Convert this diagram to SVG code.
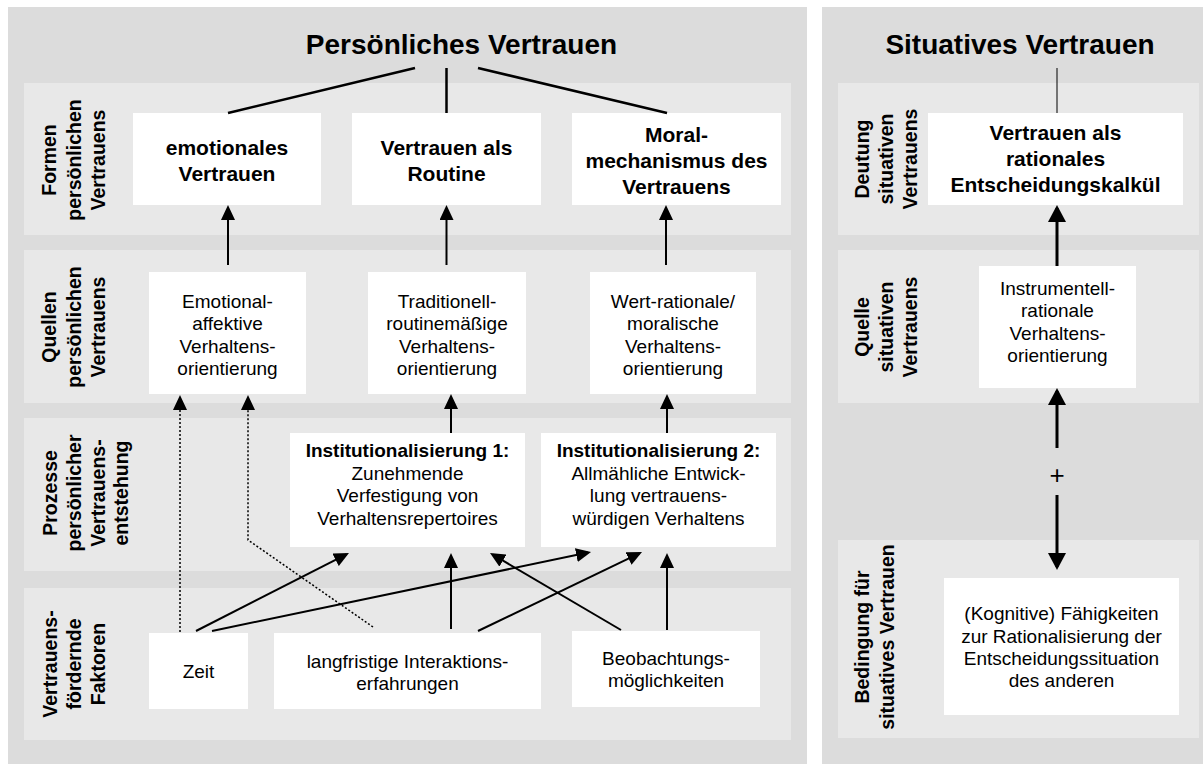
<svg xmlns="http://www.w3.org/2000/svg" width="1203" height="764" viewBox="0 0 1203 764">
  <style>
    .panel { fill: #dcdcdc; }
    .band { fill: #e8e8e8; }
    .box { fill: #ffffff; }
    text { font-family: "Liberation Sans", Arial, sans-serif; fill: #000; }
    .title { font-size: 28px; font-weight: bold; text-anchor: middle; }
    .form { font-size: 21px; font-weight: bold; text-anchor: middle; }
    .txt { font-size: 19px; text-anchor: middle; }
    .txtb { font-size: 19px; font-weight: bold; text-anchor: middle; }
    .lbl { font-size: 19.5px; font-weight: bold; text-anchor: middle; }
    .plus { font-size: 26px; text-anchor: middle; }
    .ln { stroke: #000; stroke-width: 2.5; fill: none; }
    .thin { stroke: #000; stroke-width: 1; fill: none; }
    .arr { stroke: #000; stroke-width: 2; fill: none; marker-end: url(#ah); }
    .dot { stroke: #000; stroke-width: 1.5; stroke-dasharray: 2 2; fill: none; marker-end: url(#ah); }
    .thickarr { stroke: #000; stroke-width: 3; fill: none; marker-end: url(#ahb); }
  </style>
  <defs>
    <marker id="ah" markerUnits="userSpaceOnUse" markerWidth="15" markerHeight="14" refX="12" refY="7" orient="auto">
      <path d="M0,0 L15,7 L0,14 z" fill="#000"/>
    </marker>
    <marker id="ahb" markerUnits="userSpaceOnUse" markerWidth="17" markerHeight="18" refX="14" refY="9" orient="auto">
      <path d="M0,0 L17,9 L0,18 z" fill="#000"/>
    </marker>
  </defs>

  <!-- background panels -->
  <rect x="0" y="0" width="1203" height="764" fill="#ffffff"/>
  <rect class="panel" x="8" y="7" width="799" height="757"/>
  <rect class="panel" x="822" y="7" width="381" height="757"/>

  <!-- row bands, left panel -->
  <rect class="band" x="24" y="83" width="767" height="152"/>
  <rect class="band" x="24" y="250" width="767" height="153"/>
  <rect class="band" x="24" y="418" width="767" height="153"/>
  <rect class="band" x="24" y="588" width="767" height="152"/>
  <!-- row bands, right panel -->
  <rect class="band" x="838" y="83" width="361" height="152"/>
  <rect class="band" x="838" y="250" width="361" height="153"/>
  <rect class="band" x="838" y="540" width="361" height="198"/>

  <!-- panel titles -->
  <text class="title" x="461.5" y="54">Persönliches Vertrauen</text>
  <text class="title" x="1020" y="54">Situatives Vertrauen</text>

  <!-- row labels -->
  <g id="label-formen">
    <text class="lbl" transform="translate(0,160) rotate(-90)"><tspan x="0" y="56">Formen</tspan><tspan x="0" y="81">persönlichen</tspan><tspan x="0" y="104.5">Vertrauens</tspan></text>
  </g>
  <g id="label-quellen">
    <text class="lbl" transform="translate(0,327) rotate(-90)"><tspan x="0" y="56">Quellen</tspan><tspan x="0" y="81">persönlichen</tspan><tspan x="0" y="104.5">Vertrauens</tspan></text>
  </g>
  <g id="label-prozesse">
    <text class="lbl" transform="translate(0,493) rotate(-90)"><tspan x="0" y="57">Prozesse</tspan><tspan x="0" y="81">persönlicher</tspan><tspan x="0" y="104.5">Vertrauens-</tspan><tspan x="0" y="128">entstehung</tspan></text>
  </g>
  <g id="label-faktoren">
    <text class="lbl" transform="translate(0,664) rotate(-90)"><tspan x="0" y="57">Vertrauens-</tspan><tspan x="0" y="81">fördernde</tspan><tspan x="0" y="104.5">Faktoren</tspan></text>
  </g>
  <g id="label-deutung">
    <text class="lbl" transform="translate(0,159) rotate(-90)"><tspan x="0" y="869">Deutung</tspan><tspan x="0" y="893">situativen</tspan><tspan x="0" y="917">Vertrauens</tspan></text>
  </g>
  <g id="label-quelle">
    <text class="lbl" transform="translate(0,327) rotate(-90)"><tspan x="0" y="869">Quelle</tspan><tspan x="0" y="893">situativen</tspan><tspan x="0" y="917">Vertrauens</tspan></text>
  </g>
  <g id="label-bedingung">
    <text class="lbl" transform="translate(0,637) rotate(-90)"><tspan x="0" y="869">Bedingung für</tspan><tspan x="0" y="894">situatives Vertrauen</tspan></text>
  </g>

  <!-- forms of personal trust -->
  <g id="emotionales-vertrauen">
    <rect class="box" x="133" y="113" width="188" height="92"/>
    <text class="form"><tspan x="227" y="155">emotionales</tspan><tspan x="227" y="181">Vertrauen</tspan></text>
  </g>
  <g id="vertrauen-routine">
    <rect class="box" x="352" y="113" width="189" height="92"/>
    <text class="form"><tspan x="446.5" y="155">Vertrauen als</tspan><tspan x="446.5" y="181">Routine</tspan></text>
  </g>
  <g id="moralmechanismus">
    <rect class="box" x="572" y="113" width="209" height="92"/>
    <text class="form"><tspan x="676.5" y="142">Moral-</tspan><tspan x="676.5" y="168">mechanismus des</tspan><tspan x="676.5" y="194">Vertrauens</tspan></text>
  </g>
  <g id="entscheidungskalkuel">
    <rect class="box" x="928" y="113" width="255" height="92"/>
    <text class="form"><tspan x="1055.5" y="140">Vertrauen als</tspan><tspan x="1055.5" y="166">rationales</tspan><tspan x="1055.5" y="192">Entscheidungskalkül</tspan></text>
  </g>

  <!-- sources -->
  <g id="emotional-affektiv">
    <rect class="box" x="149" y="272" width="157" height="122"/>
    <text class="txt"><tspan x="227.5" y="308">Emotional-</tspan><tspan x="227.5" y="330">affektive</tspan><tspan x="227.5" y="353">Verhaltens-</tspan><tspan x="227.5" y="375">orientierung</tspan></text>
  </g>
  <g id="traditionell">
    <rect class="box" x="368" y="272" width="158" height="122"/>
    <text class="txt"><tspan x="447" y="308">Traditionell-</tspan><tspan x="447" y="330">routinemäßige</tspan><tspan x="447" y="353">Verhaltens-</tspan><tspan x="447" y="375">orientierung</tspan></text>
  </g>
  <g id="wertrational">
    <rect class="box" x="590" y="272" width="166" height="122"/>
    <text class="txt"><tspan x="673" y="308">Wert-rationale/</tspan><tspan x="673" y="330">moralische</tspan><tspan x="673" y="353">Verhaltens-</tspan><tspan x="673" y="375">orientierung</tspan></text>
  </g>
  <g id="instrumentell">
    <rect class="box" x="979" y="266" width="157" height="122"/>
    <text class="txt"><tspan x="1057.5" y="295">Instrumentell-</tspan><tspan x="1057.5" y="317">rationale</tspan><tspan x="1057.5" y="340">Verhaltens-</tspan><tspan x="1057.5" y="362">orientierung</tspan></text>
  </g>

  <!-- processes -->
  <g id="institutionalisierung-1">
    <rect class="box" x="290" y="433" width="235" height="114"/>
    <text class="txt"><tspan class="txtb" x="407.5" y="457">Institutionalisierung 1:</tspan><tspan x="407.5" y="480">Zunehmende</tspan><tspan x="407.5" y="502">Verfestigung von</tspan><tspan x="407.5" y="525">Verhaltensrepertoires</tspan></text>
  </g>
  <g id="institutionalisierung-2">
    <rect class="box" x="541" y="433" width="235" height="114"/>
    <text class="txt"><tspan class="txtb" x="658.5" y="457">Institutionalisierung 2:</tspan><tspan x="658.5" y="480">Allmähliche Entwick-</tspan><tspan x="658.5" y="502">lung vertrauens-</tspan><tspan x="658.5" y="525">würdigen Verhaltens</tspan></text>
  </g>

  <!-- trust-building factors -->
  <g id="zeit">
    <rect class="box" x="149" y="633" width="99" height="76"/>
    <text class="txt" x="198.5" y="678">Zeit</text>
  </g>
  <g id="interaktionserfahrungen">
    <rect class="box" x="274" y="633" width="267" height="76"/>
    <text class="txt"><tspan x="407.5" y="668">langfristige Interaktions-</tspan><tspan x="407.5" y="690">erfahrungen</tspan></text>
  </g>
  <g id="beobachtung">
    <rect class="box" x="572" y="631" width="188" height="76"/>
    <text class="txt"><tspan x="666" y="665">Beobachtungs-</tspan><tspan x="666" y="687">möglichkeiten</tspan></text>
  </g>

  <!-- condition for situational trust -->
  <g id="kognitive-faehigkeiten">
    <rect class="box" x="944" y="578" width="235" height="137"/>
    <text class="txt"><tspan x="1061.5" y="620">(Kognitive) Fähigkeiten</tspan><tspan x="1061.5" y="643">zur Rationalisierung der</tspan><tspan x="1061.5" y="665">Entscheidungssituation</tspan><tspan x="1061.5" y="687">des anderen</tspan></text>
  </g>

  <!-- connectors -->
  <g id="connectors">
    <!-- title to forms -->
    <line class="ln" x1="415" y1="68" x2="228" y2="113"/>
    <line class="ln" x1="446.5" y1="68" x2="446.5" y2="113"/>
    <line class="ln" x1="478" y1="68" x2="667" y2="113"/>
    <line class="thin" x1="1057" y1="68" x2="1057" y2="113"/>

    <!-- sources to forms -->
    <line class="arr" x1="228" y1="265" x2="228" y2="208"/>
    <line class="arr" x1="446.5" y1="265" x2="446.5" y2="208"/>
    <line class="arr" x1="666" y1="265" x2="666" y2="208"/>
    <line class="thickarr" x1="1057" y1="266" x2="1057" y2="208"/>

    <!-- processes to sources -->
    <line class="arr" x1="451" y1="433" x2="451" y2="397"/>
    <line class="arr" x1="667" y1="433" x2="667" y2="397"/>

    <!-- factors to processes -->
    <line class="arr" x1="196" y1="631" x2="346.3" y2="554.4"/>
    <line class="arr" x1="212" y1="631" x2="588.1" y2="552.6"/>
    <line class="arr" x1="451" y1="629" x2="451" y2="556"/>
    <line class="arr" x1="478" y1="631" x2="639.3" y2="553.3"/>
    <line class="arr" x1="621" y1="630" x2="492.6" y2="554.5"/>
    <line class="arr" x1="667" y1="630" x2="667" y2="556"/>

    <!-- dotted direct influences -->
    <line class="dot" x1="180" y1="632" x2="180" y2="398"/>
    <polyline class="dot" points="373,627 248,540 248,398"/>

    <!-- situational trust chain -->
    <line class="thickarr" x1="1057" y1="448" x2="1057" y2="391"/>
    <text class="plus" x="1057" y="484">+</text>
    <line class="thickarr" x1="1057" y1="495" x2="1057" y2="567"/>
  </g>
</svg>
